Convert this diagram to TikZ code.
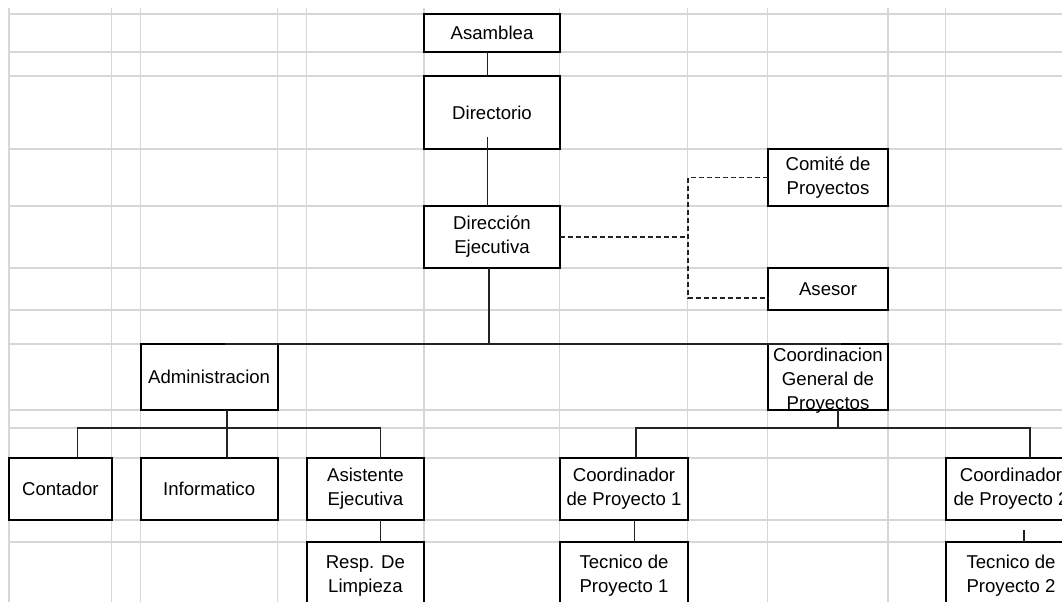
\documentclass[tikz,border=0pt]{standalone}
\usepackage{fontspec}
\setmainfont{Liberation Sans}
\newcommand\boxfont{\fontsize{18.6bp}{24bp}\selectfont}
\definecolor{gridc}{RGB}{215,215,215}
\definecolor{connc}{RGB}{35,35,35}
\tikzset{
  box/.style={draw=black, line width=2bp, fill=white, inner sep=0pt, outer sep=0pt, align=center, font=\boxfont},
  conn/.style={draw=connc, line width=1.3bp},
  dsh/.style={draw=connc, line width=1.2bp, dash pattern=on 5bp off 3bp},
  gridl/.style={draw=gridc, line width=1.3bp}
}
\begin{document}
\begin{tikzpicture}[x=1bp,y=-1bp]
\useasboundingbox (0,0) rectangle (1062,602);
\clip (0,0) rectangle (1062,602);
\fill[white] (0,0) rectangle (1062,602);
% spreadsheet grid
\foreach \gx in {9.1,111.7,140.5,277.7,306.8,424,559.8,687.8,767.7,887.9,945.8}
  \draw[gridl] (\gx,8) -- (\gx,602);
\foreach \gy in {14,52,76,149,206,268,310,344,410,428,458,520,542}
  \draw[gridl] (9,\gy) -- (1062,\gy);
% boxes
\node[box, minimum width=136bp, minimum height=38bp] (asam) at (492,33) {Asamblea};
\node[box, minimum width=136bp, minimum height=73bp] (dir) at (492,112.5) {Directorio};
\node[box, minimum width=136bp, minimum height=62bp] (dej) at (492,237) {Dirección\\Ejecutiva};
\node[box, minimum width=120bp, minimum height=57bp] (com) at (828,177.5) {Comité de\\Proyectos};
\node[box, minimum width=120bp, minimum height=42bp] (ase) at (828,289) {Asesor};
\node[box, minimum width=137.2bp, minimum height=66bp] (adm) at (209.1,377) {Administracion};
\node[box, minimum width=120bp, minimum height=66bp] (cgp) at (828,377) {\raisebox{-7.6bp}[0pt][0pt]{\begin{tabular}{@{}c@{}}Coordinacion\\General de\\Proyectos\end{tabular}}};
\node[box, minimum width=102.7bp, minimum height=62bp] (cont) at (60.35,489) {Contador};
\node[box, minimum width=137.2bp, minimum height=62bp] (inf) at (209.1,489) {Informatico};
\node[box, minimum width=117.2bp, minimum height=62bp] (asis) at (365.4,489) {Asistente\\Ejecutiva};
\node[box, minimum width=117.2bp, minimum height=68bp] (resp) at (365.4,576) {Resp. De\\Limpieza};
\node[box, minimum width=128bp, minimum height=62bp] (cp1) at (624,489) {Coordinador\\de Proyecto 1};
\node[box, minimum width=128bp, minimum height=68bp] (tp1) at (624,576) {Tecnico de\\Proyecto 1};
\node[box, minimum width=130bp, minimum height=62bp] (cp2) at (1011,489) {Coordinador\\de Proyecto 2};
\node[box, minimum width=130bp, minimum height=68bp] (tp2) at (1011,576) {Tecnico de\\Proyecto 2};
% connectors
\draw[conn] ([xshift=-4.4bp]asam.south) -- ([xshift=-4.4bp]dir.north);
\draw[conn] ([xshift=-4.7bp,yshift=12bp]dir.south) -- ([xshift=-4.7bp]dej.north);
\draw[conn] ([xshift=-3bp]dej.south) -- ([xshift=-3bp]dej.south |- adm.north);
\draw[conn] ([xshift=15.4bp]adm.north) -- ([xshift=13bp]cgp.north);
\coordinate (admj) at ([xshift=17.8bp,yshift=-18bp]adm.south);
\draw[conn] ([xshift=17.8bp]adm.south) -- (admj);
\draw[conn] ([xshift=16.85bp]cont.north) |- (admj);
\draw[conn] ([xshift=14.9bp]asis.north) |- (admj);
\draw[conn] (admj) -- (admj |- inf.north);
\draw[conn] ([xshift=14.9bp]asis.south) -- ([xshift=14.9bp]resp.north);
\coordinate (cgpj) at ([xshift=10.1bp,yshift=-18bp]cgp.south);
\draw[conn] ([xshift=10.1bp]cgp.south) -- (cgpj);
\draw[conn] ([xshift=12bp]cp1.north) |- (cgpj);
\draw[conn] ([xshift=19bp]cp2.north) |- (cgpj);
\draw[conn] ([xshift=10.6bp]cp1.south) -- ([xshift=10.6bp]tp1.north);
\draw[conn] ([xshift=13bp,yshift=-10bp]cp2.south) -- ([xshift=13bp]tp2.north);
% dashed staff links
\coordinate (dj) at ([xshift=128bp]dej.east);
\draw[dsh] (dej.east) -- (dj);
\draw[dsh] (com.west) -| (dj) |- ([yshift=-9bp]ase.west);
\end{tikzpicture}
\end{document}
